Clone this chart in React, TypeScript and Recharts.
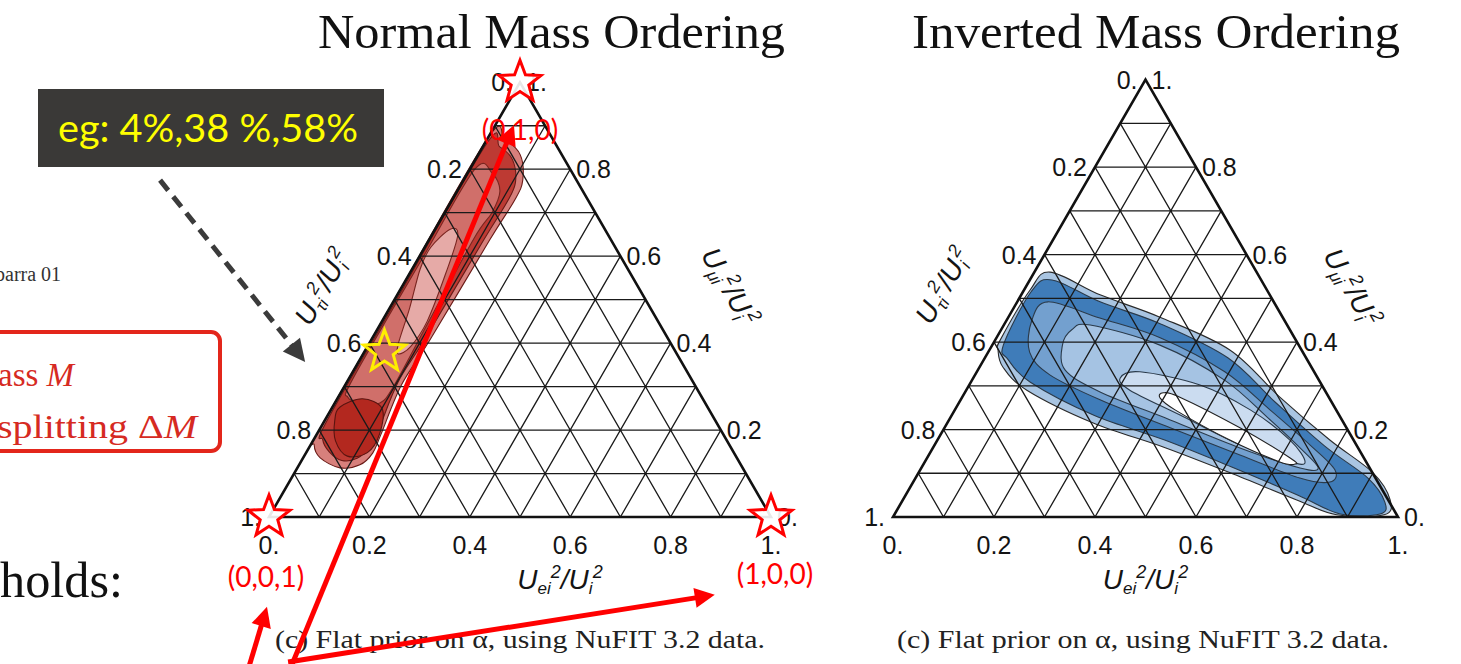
import { ScatterChart, Scatter, XAxis, YAxis } from 'recharts'

type TP = [number, number] // [Ue share, Umu share]; Utau = 1 - Ue - Umu
type XY = { x: number; y: number }

const H3 = Math.sqrt(3) / 2

const tickValues = [0, 0.2, 0.4, 0.6, 0.8, 1]
const tickLabels = ['0.', '0.2', '0.4', '0.6', '0.8', '1.']
const gridSteps = [0.1, 0.2, 0.3, 0.4, 0.5, 0.6, 0.7, 0.8, 0.9]

const corners: TP[] = [[0, 1], [0, 0], [1, 0]]
const cornerLabels = ['(0,1,0)', '(0,0,1)', '(1,0,0)']

// example flavour mix 4%, 38%, 58%
const examplePoint: TP = [0.04, 0.38]

// normal ordering credible regions
const normalOuter: TP[] = [
  [0.0, 0.872], [0.036, 0.867], [0.084, 0.833], [0.118, 0.775], [0.125, 0.729], [0.121, 0.637],
  [0.117, 0.407], [0.112, 0.304], [0.128, 0.19], [0.133, 0.147], [0.121, 0.12], [0.085, 0.113],
  [0.034, 0.136], [0.007, 0.166], [0.0, 0.2], [0.0, 0.5],
]
const normalMid: TP[] = [
  [0.004, 0.858], [0.033, 0.852], [0.074, 0.822], [0.106, 0.77], [0.112, 0.725], [0.109, 0.636],
  [0.106, 0.41], [0.102, 0.31], [0.118, 0.2], [0.12, 0.16], [0.108, 0.135], [0.08, 0.13],
  [0.045, 0.15], [0.018, 0.178], [0.005, 0.215], [0.004, 0.5],
]
const normalInner: TP[] = [
  [0.01, 0.8], [0.05, 0.79], [0.085, 0.75], [0.094, 0.7], [0.088, 0.64], [0.094, 0.43],
  [0.098, 0.3], [0.09, 0.262], [0.055, 0.262], [0.02, 0.275], [0.008, 0.32], [0.008, 0.6],
]
const normalCore: TP[] = [
  [0.012, 0.62], [0.03, 0.662], [0.052, 0.648], [0.072, 0.56], [0.09, 0.45], [0.086, 0.392],
  [0.07, 0.375], [0.058, 0.4], [0.04, 0.48], [0.016, 0.57],
]
const normalPeak: TP[] = [
  [0.015, 0.253], [0.05, 0.272], [0.1, 0.25], [0.125, 0.19], [0.122, 0.148], [0.086, 0.14],
  [0.045, 0.175], [0.02, 0.222],
]

// inverted ordering credible regions
const invertedOuter: TP[] = [
  [0.031, 0.56], [0.156, 0.508], [0.3, 0.457], [0.476, 0.382], [0.629, 0.274], [0.777, 0.176],
  [0.9, 0.101], [0.965, 0.039], [0.97, 0.005], [0.876, 0.005], [0.78, 0.039], [0.617, 0.101],
  [0.455, 0.16], [0.289, 0.215], [0.12, 0.29], [0.046, 0.343], [0.017, 0.382], [0.01, 0.405],
  [0.012, 0.519],
]
const invertedMid: TP[] = [
  [0.044, 0.542], [0.164, 0.492], [0.308, 0.442], [0.481, 0.364], [0.625, 0.263], [0.774, 0.162],
  [0.896, 0.089], [0.957, 0.034], [0.961, 0.007], [0.882, 0.007], [0.777, 0.05], [0.612, 0.115],
  [0.45, 0.176], [0.283, 0.232], [0.118, 0.308], [0.048, 0.36], [0.022, 0.393], [0.016, 0.515],
]
const invertedInner: TP[] = [
  [0.061, 0.492], [0.182, 0.455], [0.324, 0.41], [0.491, 0.332], [0.624, 0.245], [0.743, 0.165],
  [0.821, 0.108], [0.825, 0.08], [0.761, 0.089], [0.616, 0.142], [0.447, 0.204], [0.276, 0.268],
  [0.148, 0.325], [0.082, 0.377], [0.05, 0.45],
]
const invertedCore: TP[] = [
  [0.14, 0.428], [0.171, 0.439], [0.332, 0.393], [0.5, 0.313], [0.63, 0.226], [0.727, 0.158],
  [0.786, 0.112], [0.75, 0.112], [0.608, 0.158], [0.438, 0.222], [0.267, 0.286], [0.173, 0.336],
  [0.139, 0.393],
]
const invertedPeak: TP[] = [
  [0.291, 0.318], [0.323, 0.332], [0.457, 0.302], [0.585, 0.245], [0.698, 0.176], [0.753, 0.126],
  [0.723, 0.126], [0.605, 0.165], [0.452, 0.233], [0.324, 0.29],
]
const invertedHole: TP[] = [
  [0.393, 0.284], [0.431, 0.274], [0.585, 0.204], [0.719, 0.135], [0.736, 0.121], [0.703, 0.126],
  [0.579, 0.176], [0.436, 0.245], [0.393, 0.272],
]

// annotation arrows, plot-plane coordinates [x, y] of the left panel (tail, tip)
const dashedArrow: [number, number][] = [[-0.217, 0.671], [0.072, 0.309]]
const redArrows: [number, number][][] = [
  [[0.033, -0.325], [0.488, 0.781]],
  [[-0.048, -0.325], [-0.004, -0.179]],
  [[0.038, -0.289], [0.888, -0.155]],
]

const toXY = ([e, mu]: TP): XY => ({ x: e + mu / 2, y: mu * H3 })

function closedSpline(pts: XY[]) {
  const n = pts.length
  let d = `M${pts[0].x},${pts[0].y}`
  for (let i = 0; i < n; i++) {
    const p0 = pts[(i - 1 + n) % n]
    const p1 = pts[i]
    const p2 = pts[(i + 1) % n]
    const p3 = pts[(i + 2) % n]
    d += `C${p1.x + (p2.x - p0.x) / 6},${p1.y + (p2.y - p0.y) / 6} ${p2.x - (p3.x - p1.x) / 6},${p2.y - (p3.y - p1.y) / 6} ${p2.x},${p2.y}`
  }
  return d + 'Z'
}

function starPath(cx: number, cy: number, R: number) {
  const r = R * 0.42
  let d = ''
  for (let i = 0; i < 10; i++) {
    const a = -Math.PI / 2 + (i * Math.PI) / 5
    const rr = i % 2 ? r : R
    d += `${i ? 'L' : 'M'}${cx + rr * Math.cos(a)},${cy + rr * Math.sin(a)}`
  }
  return d + 'Z'
}

const noMark = () => <g />

const gridData: XY[] = gridSteps.flatMap((k) => [
  toXY([0, k]), toXY([1 - k, k]),
  toXY([k, 0]), toXY([k, 1 - k]),
  toXY([1 - k, 0]), toXY([0, 1 - k]),
])

const pairsLine = (stroke: string, width: number) => (p: any) => {
  const pts: XY[] = p.points
  let d = ''
  for (let i = 0; i + 1 < pts.length; i += 2) d += `M${pts[i].x},${pts[i].y}L${pts[i + 1].x},${pts[i + 1].y}`
  return <path d={d} stroke={stroke} strokeWidth={width} fill="none" />
}

const arrowLine = (color: string, width: number, head: number, half: number, dash?: string) => (p: any) => {
  const [a, b] = p.points as XY[]
  const len = Math.hypot(b.x - a.x, b.y - a.y)
  const ux = (b.x - a.x) / len
  const uy = (b.y - a.y) / len
  const bx = b.x - ux * head
  const by = b.y - uy * head
  return (
    <g>
      <line x1={a.x} y1={a.y} x2={bx + ux * 2} y2={by + uy * 2} stroke={color} strokeWidth={width} strokeDasharray={dash} />
      <polygon points={`${b.x},${b.y} ${bx - uy * half},${by + ux * half} ${bx + uy * half},${by - ux * half}`} fill={color} />
    </g>
  )
}

const tickFont = { fontFamily: 'Liberation Sans, Arial, sans-serif', fontSize: 25, fill: '#141414' }

function AxisTitle({ x, y, angle, sub }: { x: number; y: number; angle: number; sub: string }) {
  return (
    <text x={x} y={y} transform={`rotate(${angle} ${x} ${y})`} textAnchor="middle" fontFamily="Liberation Sans, Arial, sans-serif"
      fontStyle="italic" fontSize={28} fill="#141414">
      U<tspan fontSize={17} dy={5}>{sub}</tspan>
      <tspan fontSize={18} dy={-16}>2</tspan>
      <tspan dy={11}>/U</tspan>
      <tspan fontSize={17} dy={5}>i</tspan>
      <tspan fontSize={18} dy={-16}>2</tspan>
    </text>
  )
}

type Layer = { pts: TP[]; fill: string; stroke: string }

type PanelProps = {
  box: { left: number; top: number; width: number; height: number }
  origin: [number, number]
  scale: number
  layers: Layer[]
  titleShift: { bottom: [number, number]; left: [number, number]; right: [number, number] }
  annotated?: boolean
}

const cornerShift: [number, number][] = [[0, 58], [-3, 70], [4, 67]]

function TernaryPanel({ box, origin, scale, layers, titleShift, annotated }: PanelProps) {
  const ox = origin[0] - box.left
  const oy = origin[1] - box.top
  const xDomain = [-ox / scale, (box.width - ox) / scale]
  const yDomain = [-(box.height - oy) / scale, oy / scale]

  const bottomTicks = tickValues.map((v, i) => ({ ...toXY([v, 0]), label: tickLabels[i] }))
  const leftTicks = tickValues.map((v, i) => ({ ...toXY([0, 1 - v]), label: tickLabels[i] }))
  const rightTicks = tickValues.map((v, i) => ({ ...toXY([1 - v, v]), label: tickLabels[i] }))
  const frame = [toXY([0, 0]), toXY([1, 0]), toXY([0, 1])]

  return (
    <div style={{ position: 'absolute', left: box.left, top: box.top }}>
      <ScatterChart width={box.width} height={box.height} margin={{ top: 0, right: 0, bottom: 0, left: 0 }}>
        <XAxis type="number" dataKey="x" domain={xDomain} hide allowDataOverflow />
        <YAxis type="number" dataKey="y" domain={yDomain} hide allowDataOverflow />

        {layers.map((l, i) => (
          <Scatter key={`layer-${i}`} data={l.pts.map(toXY)} isAnimationActive={false} shape={noMark}
            line={(p: any) => <path d={closedSpline(p.points)} fill={l.fill} stroke={l.stroke} strokeWidth={1.1} />} />
        ))}

        <Scatter data={gridData} isAnimationActive={false} shape={noMark} line={pairsLine('#1a1a1a', 1.3)} />
        <Scatter data={frame} isAnimationActive={false} shape={noMark}
          line={(p: any) => (
            <path d={`M${p.points.map((q: XY) => `${q.x},${q.y}`).join('L')}Z`} fill="none" stroke="#111" strokeWidth={2.6} />
          )} />

        <Scatter data={bottomTicks} isAnimationActive={false}
          shape={(p: any) => <text x={p.cx} y={p.cy + 37} textAnchor="middle" {...tickFont}>{p.payload.label}</text>} />
        <Scatter data={leftTicks} isAnimationActive={false}
          shape={(p: any) => <text x={p.cx - 8} y={p.cy + 9} textAnchor="end" {...tickFont}>{p.payload.label}</text>} />
        <Scatter data={rightTicks} isAnimationActive={false}
          shape={(p: any) => <text x={p.cx + 6} y={p.cy + 9} textAnchor="start" {...tickFont}>{p.payload.label}</text>} />

        <Scatter data={[toXY([0.5, 0])]} isAnimationActive={false}
          shape={(p: any) => <AxisTitle x={p.cx + titleShift.bottom[0]} y={p.cy + titleShift.bottom[1]} angle={0} sub="ei" />} />
        <Scatter data={[toXY([0, 0.5])]} isAnimationActive={false}
          shape={(p: any) => <AxisTitle x={p.cx + titleShift.left[0]} y={p.cy + titleShift.left[1]} angle={-60} sub="τi" />} />
        <Scatter data={[toXY([0.5, 0.5])]} isAnimationActive={false}
          shape={(p: any) => <AxisTitle x={p.cx + titleShift.right[0]} y={p.cy + titleShift.right[1]} angle={60} sub="μi" />} />

        {annotated && (
          <Scatter data={corners.map((c, i) => ({ ...toXY(c), label: cornerLabels[i], idx: i }))} isAnimationActive={false}
            shape={(p: any) => (
              <g>
                <path d={starPath(p.cx, p.cy, 22)} fill="#fff" fillOpacity={0.9} stroke="#ff0000" strokeWidth={3} />
                <text x={p.cx + cornerShift[p.payload.idx][0]} y={p.cy + cornerShift[p.payload.idx][1]} textAnchor="middle"
                  fontFamily="Lato, sans-serif" fontSize={28} fill="#ff0000">{p.payload.label}</text>
              </g>
            )} />
        )}
        {annotated && (
          <Scatter data={[toXY(examplePoint)]} isAnimationActive={false}
            shape={(p: any) => <path d={starPath(p.cx, p.cy, 22)} fill="none" stroke="#ffee00" strokeWidth={3} />} />
        )}
        {annotated && (
          <Scatter data={dashedArrow.map(([x, y]) => ({ x, y }))} isAnimationActive={false} shape={noMark}
            line={arrowLine('#3b3b3b', 5, 22, 11, '13 8')} />
        )}
        {annotated && redArrows.map((a, i) => (
          <Scatter key={`arrow-${i}`} data={a.map(([x, y]) => ({ x, y }))} isAnimationActive={false} shape={noMark}
            line={arrowLine('#ff0000', 5, 20, 10)} />
        ))}
      </ScatterChart>
    </div>
  )
}

const normalLayers: Layer[] = [
  { pts: normalOuter, fill: '#d7807c', stroke: '#6a1a16' },
  { pts: normalMid, fill: '#bd3a33', stroke: '#6a1a16' },
  { pts: normalInner, fill: '#d06f6a', stroke: '#7a2520' },
  { pts: normalCore, fill: '#e6aaa7', stroke: '#7a2520' },
  { pts: normalPeak, fill: '#b3281f', stroke: '#5a1410' },
]

const invertedLayers: Layer[] = [
  { pts: invertedOuter, fill: '#a9c5e2', stroke: '#2a2a2a' },
  { pts: invertedMid, fill: '#3f7cb9', stroke: '#2a3a4a' },
  { pts: invertedInner, fill: '#73a0cf', stroke: '#2a3a4a' },
  { pts: invertedCore, fill: '#a5c3e3', stroke: '#2a3a4a' },
  { pts: invertedPeak, fill: '#cbdcf0', stroke: '#2a3a4a' },
  { pts: invertedHole, fill: '#ffffff', stroke: '#222' },
]

const serif = 'Liberation Serif, Times New Roman, serif'

export default function App() {
  return (
    <div style={{ position: 'absolute', left: 0, top: 0, width: 1461, height: 664, overflow: 'hidden', background: '#fff' }}>
      <svg width={1461} height={664} style={{ position: 'absolute', left: 0, top: 0 }}>
        <text x={318} y={48} fontFamily={serif} fontSize={48} textLength={467} lengthAdjust="spacingAndGlyphs" fill="#111">Normal Mass Ordering</text>
        <text x={912} y={48} fontFamily={serif} fontSize={48} textLength={488} lengthAdjust="spacingAndGlyphs" fill="#111">Inverted Mass Ordering</text>

        <rect x={38} y={89} width={346} height={78} fill="#3a3937" />
        <text x={58} y={142} fontFamily="Lato, sans-serif" fontSize={39} textLength={300} lengthAdjust="spacingAndGlyphs" fill="#ffff00">eg: 4%,38 %,58%</text>

        <text x={-5} y={281} fontFamily={serif} fontSize={20} fill="#333">barra 01</text>
        <rect x={-20} y={332} width={240} height={119} rx={9} fill="none" stroke="#e3261b" strokeWidth={4} />
        <text x={-2} y={386} fontFamily={serif} fontSize={33} fill="#d62a22">ass <tspan fontStyle="italic">M</tspan></text>
        <text x={-3} y={438} fontFamily={serif} fontSize={33} textLength={200} lengthAdjust="spacingAndGlyphs" fill="#d62a22">splitting Δ<tspan fontStyle="italic">M</tspan></text>
        <text x={0} y={597} fontFamily={serif} fontSize={50} textLength={123} lengthAdjust="spacingAndGlyphs" fill="#111">holds:</text>

        <text x={275} y={648} fontFamily={serif} fontSize={25} textLength={490} lengthAdjust="spacingAndGlyphs" fill="#222">(c) Flat prior on α, using NuFIT 3.2 data.</text>
        <text x={897} y={648} fontFamily={serif} fontSize={25} textLength={492} lengthAdjust="spacingAndGlyphs" fill="#222">(c) Flat prior on α, using NuFIT 3.2 data.</text>
      </svg>

      <TernaryPanel
        box={{ left: 120, top: 40, width: 740, height: 640 }}
        origin={[269, 517]}
        scale={502}
        layers={normalLayers}
        titleShift={{ bottom: [40, 72], left: [-64, -8], right: [76, -8] }}
        annotated
      />
      <TernaryPanel
        box={{ left: 840, top: 50, width: 600, height: 560 }}
        origin={[893, 517]}
        scale={505}
        layers={invertedLayers}
        titleShift={{ bottom: [0, 72], left: [-68, -8], right: [72, -6] }}
      />
    </div>
  )
}
